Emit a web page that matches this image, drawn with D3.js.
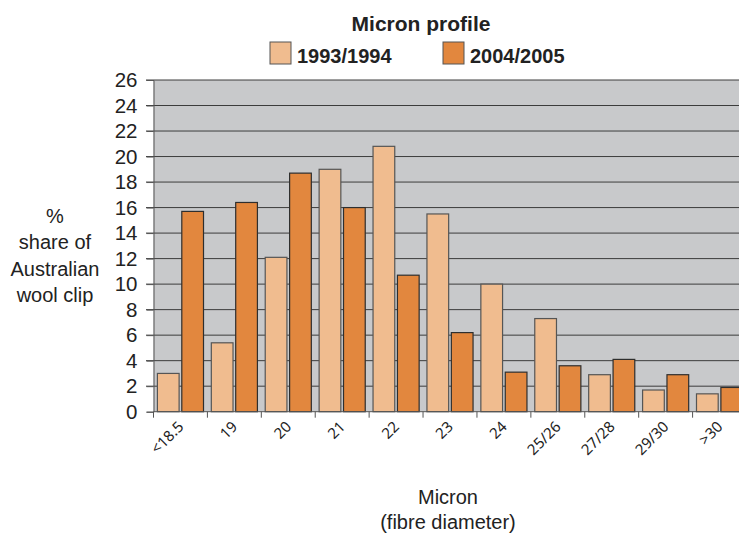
<!DOCTYPE html>
<html><head><meta charset="utf-8">
<script src="https://cdn.jsdelivr.net/npm/d3@7"></script>
<style>body{margin:0;background:#fff}svg{display:block}</style>
</head><body><svg id="c" width="739" height="537"></svg>
<script>
const categories = ["<18.5","19","20","21","22","23","24","25/26","27/28","29/30",">30"];
const series = ["1993/1994","2004/2005"];
const v1993 = [3.0,5.4,12.1,19.0,20.8,15.5,10.0,7.3,2.9,1.7,1.4];
const v2004 = [15.7,16.4,18.7,16.0,10.7,6.2,3.1,3.6,4.1,2.9,1.9];
const yTicks = [0,2,4,6,8,10,12,14,16,18,20,22,24,26];
const colors = ["#F0BC8F","#E2873E"];

const svg = d3.select("#c");
const L = 153.5, R = 746.5, T = 80, B = 411.7;
const x = d3.scaleBand().domain(categories).range([L,R]).paddingInner(0).paddingOuter(0);
const xs = d3.scaleBand().domain(series).range([0,x.bandwidth()]).paddingInner(0.11).paddingOuter(0.16);
const y = d3.scaleLinear().domain([0,26]).range([B,T]);
const font = "Liberation Sans, Arial, sans-serif";

svg.append("rect").attr("x",L).attr("y",T).attr("width",R-L).attr("height",B-T).attr("fill","#C8C9CB");

// grid
svg.append("g").selectAll("line").data(yTicks.filter(d=>d>0)).join("line")
  .attr("x1",146).attr("x2",R).attr("y1",d=>y(d)).attr("y2",d=>y(d))
  .attr("stroke","#3c3c3c").attr("stroke-width",1);

// y axis
const ya = svg.append("g").attr("transform",`translate(${L},0)`)
  .call(d3.axisLeft(y).tickValues(yTicks).tickSize(7).tickPadding(9));
ya.select(".domain").attr("stroke","#555");
ya.selectAll(".tick line").attr("stroke","#555");
ya.selectAll("text").attr("font-family",font).attr("font-size",20.5).attr("fill","#222");

// bars
const data = categories.map((c,i)=>({c, vals:[v1993[i], v2004[i]]}));
const g = svg.append("g").selectAll("g").data(data).join("g").attr("transform",d=>`translate(${x(d.c)},0)`);
g.selectAll("rect").data(d=>d.vals.map((v,j)=>({s:series[j],v,j}))).join("rect")
  .attr("x",d=>xs(d.s)).attr("width",xs.bandwidth())
  .attr("y",d=>y(d.v)).attr("height",d=>B-y(d.v))
  .attr("fill",d=>colors[d.j]).attr("stroke",d=>d.j? "#2e2e2e":"#555").attr("stroke-width",1.2);

// x axis
svg.append("line").attr("x1",L).attr("x2",R).attr("y1",B).attr("y2",B).attr("stroke","#555");
svg.append("g").selectAll("line").data(categories).join("line")
  .attr("x1",d=>x(d)).attr("x2",d=>x(d)).attr("y1",B).attr("y2",B+6).attr("stroke","#555");
svg.append("g").selectAll("text").data(categories).join("text")
  .attr("transform",d=>`translate(${x(d)+x.bandwidth()/2+4},${B+16}) rotate(-45)`)
  .attr("text-anchor","end").attr("font-family","Noto Sans, Open Sans, sans-serif").attr("font-size",15).attr("fill","#222")
  .text(d=>d);

// title
svg.append("text").attr("x",421).attr("y",31).attr("text-anchor","middle")
  .attr("font-family",font).attr("font-weight","bold").attr("font-size",21).attr("fill","#222").text("Micron profile");

// legend
const legX = [270,443];
const lg = svg.append("g").selectAll("g").data(series).join("g").attr("transform",(d,i)=>`translate(${legX[i]},42)`);
lg.append("rect").attr("width",21).attr("height",22).attr("fill",(d,i)=>colors[i]).attr("stroke","#555").attr("stroke-width",1);
lg.append("text").attr("x",27).attr("y",21).attr("font-family",font).attr("font-weight","bold").attr("font-size",20).attr("fill","#222").text(d=>d);

// y title
svg.append("text").attr("text-anchor","middle").attr("font-family",font).attr("font-size",20).attr("fill","#222")
  .selectAll("tspan").data(["%","share of","Australian","wool clip"]).join("tspan")
  .attr("x",55).attr("y",(d,i)=>223+i*26.3).text(d=>d);

// x title
svg.append("text").attr("text-anchor","middle").attr("font-family",font).attr("font-size",20).attr("fill","#222")
  .selectAll("tspan").data(["Micron","(fibre diameter)"]).join("tspan")
  .attr("x",448).attr("y",(d,i)=>504+i*25).text(d=>d);
</script></body></html>
